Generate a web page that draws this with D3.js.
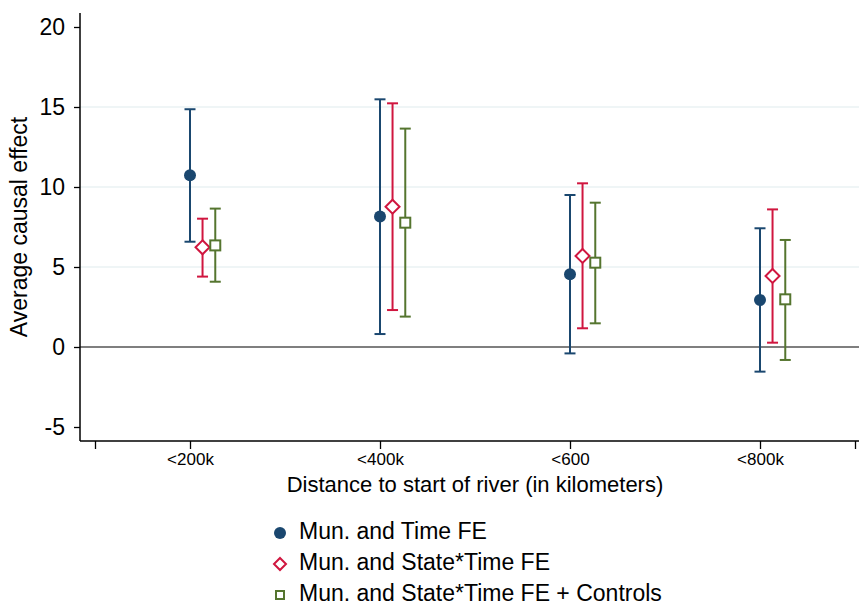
<!DOCTYPE html>
<html>
<head>
<meta charset="utf-8">
<script src="https://cdn.jsdelivr.net/npm/d3@7"></script>
<style>
  body { margin: 0; background: #fff; }
  text { font-family: "Liberation Sans", Arial, sans-serif; fill: #000; }
</style>
</head>
<body>
<div id="canvas"></div>
<script>
"use strict"

/* Data */
let categories = ["<200k", "<400k", "<600", "<800k"];
let seriesNames = ["Mun. and Time FE", "Mun. and State*Time FE", "Mun. and State*Time FE + Controls"];
let estTime = [10.73, 8.15, 4.54, 2.94];
let lowTime = [6.58, 0.81, -0.40, -1.54];
let highTime = [14.86, 15.48, 9.50, 7.42];
let estState = [6.23, 8.77, 5.69, 4.44];
let lowState = [4.40, 2.31, 1.17, 0.27];
let highState = [8.02, 15.23, 10.23, 8.60];
let estCtrl = [6.35, 7.77, 5.27, 2.98];
let lowCtrl = [4.08, 1.90, 1.48, -0.81];
let highCtrl = [8.65, 13.65, 9.02, 6.69];
let yTicks = [-5, 0, 5, 10, 15, 20];

/* Drawing config */
let svgWidth = 859;
let svgHeight = 606;
let colors = ["#1a476f", "#d0163f", "#55752f"];
let offsets = [0, 0.066, 0.133];

let svg = d3.select("#canvas")
    .append("svg")
    .attr("width", svgWidth)
    .attr("height", svgHeight);

let xScale = d3.scaleLinear()
    .domain([80 / 190, 859 / 190])
    .range([80, 859]);

let yScale = d3.scaleLinear()
    .domain([-5.875, 20.875])
    .range([441, 13]);

/* gridlines */
svg.selectAll(".grid")
    .data([5, 10, 15])
    .join("line")
    .attr("x1", 80)
    .attr("x2", 859)
    .attr("y1", d => yScale(d))
    .attr("y2", d => yScale(d))
    .attr("stroke", "#eaf2f3")
    .attr("stroke-width", 1.5);

/* zero line */
svg.append("line")
    .attr("x1", 80)
    .attr("x2", 859)
    .attr("y1", yScale(0))
    .attr("y2", yScale(0))
    .attr("stroke", "#7f7f7f")
    .attr("stroke-width", 2);

/* y axis */
let yAxis = svg.append("g")
    .attr("transform", "translate(80,0)")
    .call(d3.axisLeft(yScale).tickValues(yTicks).tickSize(6).tickPadding(9)
        .tickFormat(d => String(d)));
yAxis.select(".domain").attr("stroke-width", 1.5).attr("d", "M0,13V441");
yAxis.selectAll("text").style("font-size", "23px").attr("font-family", null);
yAxis.selectAll(".tick line").attr("stroke-width", 1.3);

/* x axis */
let xTickVals = [0.5, 1, 2, 3, 4, 4.5];
let xAxis = svg.append("g")
    .attr("transform", "translate(0,441)")
    .call(d3.axisBottom(xScale)
        .tickValues(xTickVals)
        .tickSize(8)
        .tickPadding(4)
        .tickFormat(d => Number.isInteger(d) ? categories[d - 1] : ""));
xAxis.select(".domain").attr("stroke-width", 1.5).attr("d", "M80,0H859");
xAxis.selectAll("text").style("font-size", "17px").attr("font-family", null);
xAxis.selectAll(".tick line").attr("stroke-width", 1.3);

/* axis titles */
svg.append("text")
    .attr("x", 475)
    .attr("y", 486)
    .attr("text-anchor", "middle")
    .attr("dominant-baseline", "middle")
    .style("font-size", "22px")
    .text("Distance to start of river (in kilometers)");

svg.append("text")
    .attr("transform", "translate(21,227) rotate(-90)")
    .attr("text-anchor", "middle")
    .attr("dominant-baseline", "middle")
    .style("font-size", "23px")
    .text("Average causal effect");

/* series */
let series = [
    { est: estTime, low: lowTime, high: highTime, shape: "circle" },
    { est: estState, low: lowState, high: highState, shape: "diamond" },
    { est: estCtrl, low: lowCtrl, high: highCtrl, shape: "square" }
];

function drawMarker(g, shape, color, size) {
    if (shape === "circle") {
        g.append("circle").attr("r", size).attr("fill", color);
    } else if (shape === "diamond") {
        let s = size + 1;
        g.append("path")
            .attr("d", `M0,${-s}L${s},0L0,${s}L${-s},0Z`)
            .attr("fill", "#fff")
            .attr("stroke", color)
            .attr("stroke-width", 2);
    } else {
        let s = size - 1;
        g.append("rect")
            .attr("x", -s).attr("y", -s)
            .attr("width", 2 * s).attr("height", 2 * s)
            .attr("fill", "#fff")
            .attr("stroke", color)
            .attr("stroke-width", 2);
    }
}

series.forEach(function(s, i) {
    let g = svg.append("g");
    categories.forEach(function(c, k) {
        let cx = xScale(k + 1 + offsets[i]);
        g.append("line")
            .attr("x1", cx).attr("x2", cx)
            .attr("y1", yScale(s.low[k])).attr("y2", yScale(s.high[k]))
            .attr("stroke", colors[i]).attr("stroke-width", 2);
        [s.low[k], s.high[k]].forEach(function(v) {
            g.append("line")
                .attr("x1", cx - 5.5).attr("x2", cx + 5.5)
                .attr("y1", yScale(v)).attr("y2", yScale(v))
                .attr("stroke", colors[i]).attr("stroke-width", 2);
        });
        let m = g.append("g").attr("transform", `translate(${cx},${yScale(s.est[k])})`);
        drawMarker(m, s.shape, colors[i], 6);
    });
});

/* legend */
let legendY = [533, 564, 595];
seriesNames.forEach(function(name, i) {
    let m = svg.append("g").attr("transform", `translate(280,${legendY[i]})`);
    drawMarker(m, series[i].shape, colors[i], i === 0 ? 6 : 5);
    svg.append("text")
        .attr("x", 299)
        .attr("y", legendY[i])
        .attr("dominant-baseline", "middle")
        .style("font-size", "23px")
        .text(name);
});
</script>
</body>
</html>
